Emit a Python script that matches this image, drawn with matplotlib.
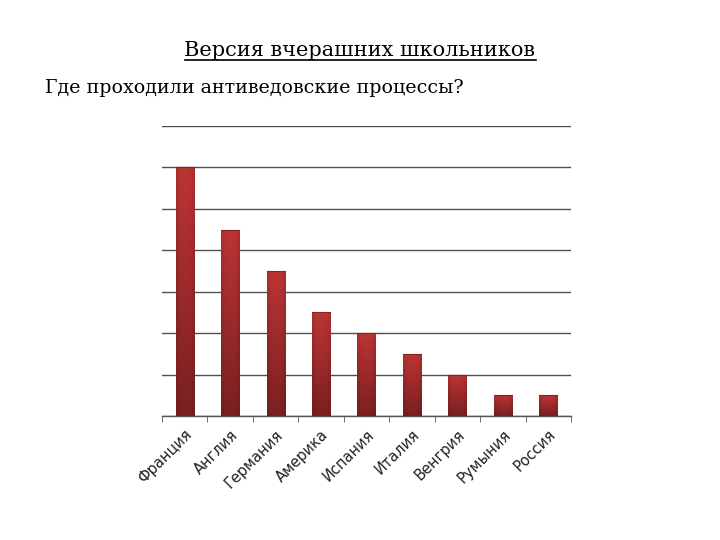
import matplotlib
matplotlib.use("Agg")
import matplotlib.pyplot as plt
import numpy as np
from matplotlib.lines import Line2D
from matplotlib.colors import to_rgb

countries = ["Франция", "Англия", "Германия", "Америка", "Испания",
             "Италия", "Венгрия", "Румыния", "Россия"]
values = [6, 4.5, 3.5, 2.5, 2, 1.5, 1, 0.5, 0.5]

TOP_COLOR = to_rgb("#bd3434")
BOTTOM_COLOR = to_rgb("#7b2021")


def gradient_image():
    # vertical light->dark, slightly darker at the side edges
    t = np.linspace(0, 1, 64)[:, None]
    s = np.linspace(-1, 1, 32)[None, :]
    top = np.array(TOP_COLOR)
    bot = np.array(BOTTOM_COLOR)
    img = top[None, None, :] * (1 - t[..., None]) + bot[None, None, :] * t[..., None]
    shade = 1 - 0.12 * np.abs(s) ** 3
    return np.clip(img * shade[..., None], 0, 1)


fig = plt.figure(figsize=(7.2, 5.4), dpi=100)
ax = fig.add_axes([0.225, 0.2296, 0.568, 0.537])

x = np.arange(len(countries))
bars = ax.bar(x, values, width=0.4, color="none", edgecolor="none", zorder=3)
img = gradient_image()
for b in bars:
    x0, w, h = b.get_x(), b.get_width(), b.get_height()
    im = ax.imshow(img, extent=[x0, x0 + w, 0, h], aspect="auto",
                   origin="upper", zorder=3, interpolation="bilinear")
    im.set_clip_path(b)
    ax.plot([x0, x0 + w], [h, h], color="#8a2222", lw=0.8, zorder=4)

ax.set_xlim(-0.5, len(countries) - 0.5)
ax.set_ylim(0, 7)
ax.set_yticks(np.arange(0, 8))
ax.yaxis.grid(True, color="#505050", lw=1.0, zorder=1)
ax.tick_params(axis="y", left=False, labelleft=False)
ax.set_axisbelow(True)

ax.set_xticks(x)
ax.set_xticklabels(countries, rotation=45, ha="right", rotation_mode="anchor",
                   fontsize=10.5, family="DejaVu Sans", color="#222222")
ax.tick_params(axis="x", which="major", length=0, pad=8)
ax.set_xticks(np.arange(-0.5, len(countries)), minor=True)
ax.tick_params(axis="x", which="minor", length=4, color="#555555", direction="out")

for side in ["left", "right", "top"]:
    ax.spines[side].set_visible(False)
ax.spines["bottom"].set_color("#555555")
ax.spines["bottom"].set_linewidth(1.0)

title = fig.text(0.5, 0.897, "Версия вчерашних школьников", ha="center",
                 va="baseline", fontsize=15, family="DejaVu Serif", color="black")
fig.text(0.062, 0.827, "Где проходили антиведовские процессы?", ha="left",
         va="baseline", fontsize=13.7, family="DejaVu Serif", color="black")

fig.canvas.draw()
bb = title.get_window_extent().transformed(fig.transFigure.inverted())
fig.add_artist(Line2D([bb.x0, bb.x1], [0.889, 0.889], color="black", lw=1.2,
                      transform=fig.transFigure))

fig.savefig("out.png", dpi=100)
